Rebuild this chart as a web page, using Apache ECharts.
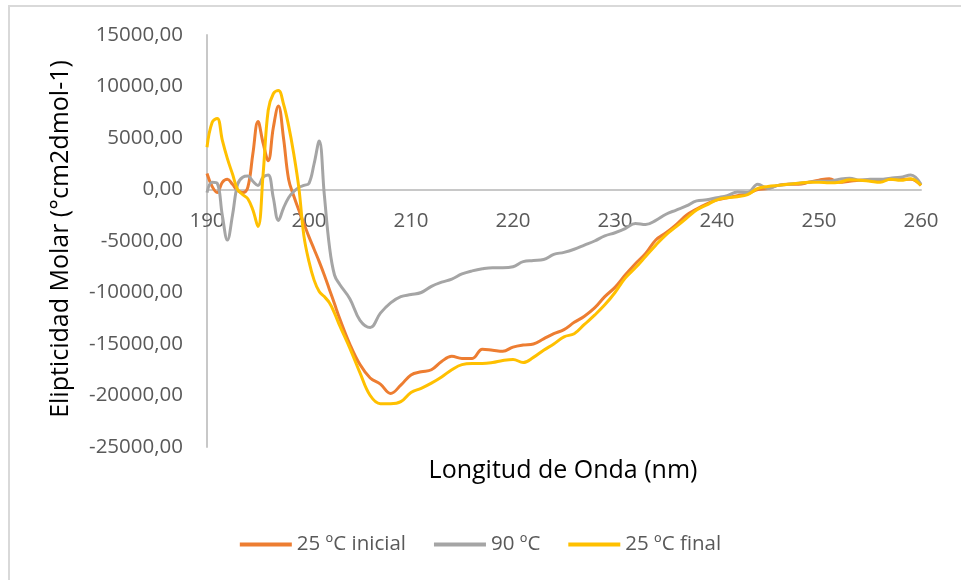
<!DOCTYPE html>
<html>
<head>
<meta charset="utf-8">
<script src="https://cdn.jsdelivr.net/npm/echarts@6/dist/echarts.min.js"></script>
<style>html,body{margin:0;padding:0;background:#fff}#c{width:961px;height:580px}</style>
</head>
<body>
<div id="c"></div>
<script>
const wavelengths = [190,190.5,191,191.5,192,192.5,193,193.5,194,194.5,195,195.5,196,196.5,197,197.5,198,198.5,199,199.5,200,200.5,201,201.5,202,202.5,203,
204,205,206,207,208,209,210,211,212,213,214,215,216,217,218,219,220,221,222,223,224,225,226,227,228,229,230,231,232,233,234,235,236,237,238,239,240,241,242,243,244,245,246,247,248,249,250,251,252,253,254,255,256,257,258,259,260];

const inicial25 = [1550,300,-300,700,1000,500,-100,-300,200,3500,6600,4500,2800,6000,8100,5000,1000,-600,-2000,-3300,-4600,-5800,-7000,-8300,-9700,-11100,-12500,
-15000,-17000,-18300,-18900,-19800,-19000,-18000,-17700,-17500,-16700,-16200,-16400,-16400,-15500,-15600,-15700,-15300,-15100,-15000,-14500,-14000,-13600,-12900,-12300,-11500,-10400,-9500,-8300,-7200,-6200,-4900,-4200,-3400,-2500,-1900,-1400,-1000,-800,-600,-400,0,100,400,500,500,700,900,1050,700,800,900,900,900,1000,1000,1000,400];

const grados90 = [-300,700,600,-2500,-4900,-2500,500,1200,1300,800,400,1200,1400,-800,-3000,-1800,-800,-200,200,400,600,2500,4700,-500,-5500,-8300,-9200,
-10600,-12700,-13400,-12000,-11000,-10400,-10200,-10000,-9400,-9000,-8700,-8200,-7900,-7700,-7600,-7600,-7500,-7000,-6900,-6800,-6300,-6100,-5800,-5400,-5000,-4500,-4200,-3800,-3300,-3400,-3000,-2400,-2000,-1600,-1100,-1000,-800,-600,-250,-300,500,100,400,500,600,700,800,800,1000,1100,900,1000,1000,1100,1200,1400,500];

const final25 = [4100,6500,6900,4800,3000,1500,0,-500,-900,-2000,-3600,1500,7700,9300,9600,8300,6200,3500,200,-4500,-7000,-8800,-9900,-10400,-11000,-12000,-13200,
-15400,-17800,-20000,-20800,-20800,-20600,-19700,-19300,-18800,-18200,-17500,-17000,-16900,-16900,-16800,-16600,-16500,-16800,-16300,-15600,-15000,-14300,-14000,-13100,-12200,-11200,-10000,-8600,-7600,-6500,-5400,-4400,-3600,-2800,-2000,-1500,-1000,-800,-700,-500,100,300,400,500,600,700,700,650,700,950,900,800,700,1000,900,1050,400];

const seriesNames = ['25 ºC inicial','90 ºC','25 ºC final'];
const seriesColors = ['#ED7D31','#A5A5A5','#FFC000'];
const xTitle = 'Longitud de Onda (nm)';
const yTitle = 'Elipticidad Molar (°cm2dmol-1)';

const FONT = 'Open Sans';
const pair = arr => wavelengths.map((w,i) => [w, arr[i]]);
const chart = echarts.init(document.getElementById('c'));
chart.setOption({
  animation: false,
  backgroundColor: '#fff',
  textStyle: {fontFamily: FONT},
  grid: {left: 207, right: 40, top: 35, bottom: 133},
  xAxis: {
    type: 'value', min: 190, max: 260, interval: 10,
    offset: -257.5,
    axisLine: {onZero: false, lineStyle: {color: '#c8c8c8', width: 2}},
    axisTick: {show: false},
    splitLine: {show: false},
    axisLabel: {color: '#595959', fontSize: 20.5, margin: 21, fontFamily: FONT}
  },
  yAxis: {
    type: 'value', min: -25000, max: 15000, interval: 5000,
    axisLine: {show: true, lineStyle: {color: '#c8c8c8', width: 2}},
    axisTick: {show: false},
    splitLine: {show: false},
    axisLabel: {color: '#595959', fontSize: 20.5, margin: 24, fontFamily: FONT,
      formatter: v => v.toFixed(2).replace('.', ',')}
  },
  legend: {
    bottom: 20, left: 'center', itemGap: 28, itemWidth: 52, itemHeight: 4,
    icon: 'rect',
    textStyle: {color: '#595959', fontSize: 20.5, fontFamily: FONT},
    data: seriesNames
  },
  series: [inicial25, grados90, final25].map((arr, i) => ({
    name: seriesNames[i], type: 'line', data: pair(arr), smooth: 0.4,
    showSymbol: false, color: seriesColors[i],
    lineStyle: {color: seriesColors[i], width: 3}
  })),
  graphic: [
    {type: 'rect', shape: {x: 9, y: 6, width: 1000, height: 700}, style: {fill: 'none', stroke: '#d9d9d9', lineWidth: 2}, silent: true},
    {type: 'text', x: 563, y: 471, style: {text: xTitle, fill: '#000', font: '25px "Open Sans"', textAlign: 'center', textVerticalAlign: 'middle'}},
    {type: 'text', x: 61, y: 239, rotation: Math.PI/2, style: {text: yTitle, fill: '#000', font: '25px "Open Sans"', textAlign: 'center', textVerticalAlign: 'middle'}}
  ]
});
</script>
</body>
</html>
